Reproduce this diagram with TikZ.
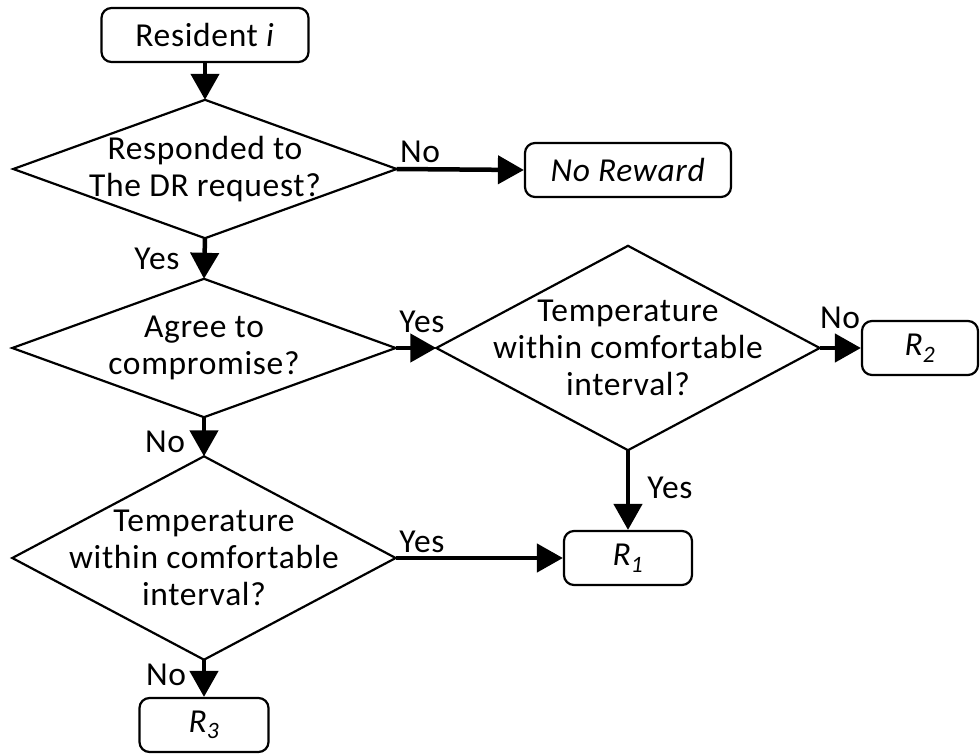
\documentclass[tikz,border=0pt]{standalone}
\usepackage{fontspec}
\setmainfont{Carlito}[LetterSpace=2]
\usetikzlibrary{arrows.meta}
\begin{document}
\begin{tikzpicture}[x=1pt,y=-1pt,
  every node/.style={font=\fontsize{33.5}{37}\selectfont, text=black},
  terminal/.style={draw, line width=2.2pt, rounded corners=10pt, inner sep=0pt,
                   minimum width=#1, minimum height=54pt},
  decision/.style={inner sep=0pt, minimum width=383pt, minimum height=#1, align=center},
  decision/.default=138pt,
  outline/.style={line width=2.2pt},
  flow/.style={line width=4.5pt, -{Triangle[length=26pt,width=28pt]}},
  tag/.style={inner sep=0pt}]
  \useasboundingbox (0,0) rectangle (980,753);

  % boxes and decisions
  \node[terminal=207pt] (res) at (205,35) {Resident \textit{i}};
  \node[decision] (d1) at (205,169) {Responded to\\The DR request?};
  \node[terminal=206pt] (nr) at (628,170) {\textit{No Reward}};
  \node[decision] (d2) at (204,348) {Agree to\\compromise?};
  \node[decision=204pt] (d3) at (628,348) {Temperature\\within comfortable\\interval?};
  \node[terminal=116pt] (r2) at (920,348) {\textit{R\textsubscript{2}}};
  \node[decision=203pt] (d4) at (204,558) {Temperature\\within comfortable\\interval?};
  \node[terminal=128pt] (r1) at (628,558) {\textit{R\textsubscript{1}}};
  \node[terminal=129pt] (r3) at (204,725) {\textit{R\textsubscript{3}}};

  % diamond outlines through the decision anchors
  \foreach \d in {d1,d2,d3,d4}
    \draw[outline] (\d.west) -- (\d.north) -- (\d.east) -- (\d.south) -- cycle;

  % connectors
  \draw[flow] (res.south) -- (d1.north);
  \draw[flow] (d1.east) -- (nr.west);
  \draw[flow] (d1.south) -- (d2.north);
  \draw[flow] (d2.east) -- (d3.west);
  \draw[flow] (d2.south) -- (d4.north);
  \draw[flow] (d3.east) -- (r2.west);
  \draw[flow] (d3.south) -- (r1.north);
  \draw[flow] (d4.east) -- (r1.west);
  \draw[flow] (d4.south) -- (r3.north);

  % branch labels
  \node[tag] (l1) at (420,152) {No};
  \node[tag] (l2) at (157,259) {Yes};
  \node[tag] (l3) at (422,322) {Yes};
  \node[tag] (l4) at (165,442) {No};
  \node[tag] (l5) at (840,318) {No};
  \node[tag] (l6) at (670,488) {Yes};
  \node[tag] (l7) at (422,542) {Yes};
  \node[tag] (l8) at (166,675) {No};
\end{tikzpicture}
\end{document}
